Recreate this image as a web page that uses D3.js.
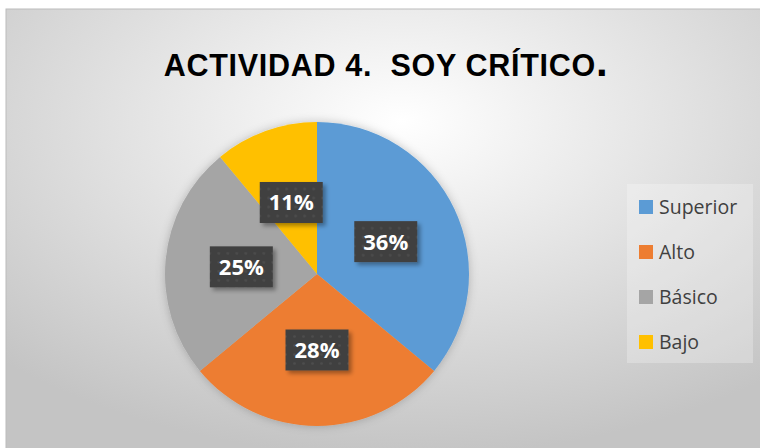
<!DOCTYPE html>
<html>
<head>
<meta charset="utf-8">
<script src="https://d3js.org/d3.v7.min.js"></script>
<title>Actividad 4</title>
<style>
body {margin:0; background:#ffffff;}
</style>
</head>
<body>
<div id="myDiv"></div>
<script>
// data
var categories = ["Superior", "Alto", "Básico", "Bajo"];
var values = [36, 28, 25, 11];
var colors = ["#5b9bd5", "#ed7d31", "#a5a5a5", "#ffc000"];

var width = 760, height = 448;

var svg = d3.select("#myDiv").append("svg")
	.attr("width", width)
	.attr("height", height);

var defs = svg.append("defs");

// background gradient
var grad = defs.append("radialGradient")
	.attr("id", "bg")
	.attr("cx", "52%").attr("cy", "25%").attr("r", "75%");
grad.append("stop").attr("offset", "0%").attr("stop-color", "#ffffff");
grad.append("stop").attr("offset", "100%").attr("stop-color", "#c4c4c4");

// shadow filters
var sh = defs.append("filter").attr("id", "shadow")
	.attr("x", "-20%").attr("y", "-20%").attr("width", "140%").attr("height", "140%");
sh.append("feDropShadow").attr("dx", 0).attr("dy", 0).attr("stdDeviation", 5)
	.attr("flood-color", "#000").attr("flood-opacity", 0.22);

var sh2 = defs.append("filter").attr("id", "boxShadow")
	.attr("x", "-30%").attr("y", "-30%").attr("width", "160%").attr("height", "160%");
sh2.append("feDropShadow").attr("dx", 3).attr("dy", 3).attr("stdDeviation", 2)
	.attr("flood-color", "#000").attr("flood-opacity", 0.35);

// dotted pattern for label boxes
var pat = defs.append("pattern").attr("id", "dots")
	.attr("width", 9).attr("height", 9).attr("patternUnits", "userSpaceOnUse");
pat.append("rect").attr("width", 9).attr("height", 9).attr("fill", "#404040");
pat.append("circle").attr("cx", 4.5).attr("cy", 4.5).attr("r", 1.3).attr("fill", "#4e4e4e");

// chart area
svg.append("rect")
	.attr("x", 6).attr("y", 9)
	.attr("width", width).attr("height", height)
	.attr("fill", "url(#bg)")
	.attr("stroke", "#bcbcbc");

// title
var title = svg.append("text")
	.attr("x", 386).attr("y", 76)
	.attr("text-anchor", "middle")
	.attr("font-family", "Liberation Sans, Arial, sans-serif")
	.attr("font-weight", "bold")
	.attr("font-size", 30.5)
	.attr("letter-spacing", 0.7)
	.attr("fill", "#000")
	.attr("xml:space", "preserve")
	.style("white-space", "pre");
title.append("tspan").text("ACTIVIDAD 4.  SOY CRÍTICO");
title.append("tspan").attr("font-size", 42).text(".");

// pie
var cx = 317, cy = 274, r = 152;

var pie = d3.pie().sort(null).value(function(d) { return d; });
var arc = d3.arc().innerRadius(0).outerRadius(r);
var arcs = pie(values);

var g = svg.append("g").attr("transform", "translate(" + cx + "," + cy + ")");

g.append("g").attr("filter", "url(#shadow)")
	.selectAll("path").data(arcs).enter()
	.append("path")
	.attr("d", arc)
	.attr("fill", function(d, i) { return colors[i]; });

// labels
var boxW = 63, boxH = 41;
var lab = g.selectAll(".lab").data(arcs).enter()
	.append("g").attr("class", "lab")
	.attr("transform", function(d) {
		var c = arc.centroid(d);
		return "translate(" + c[0] + "," + c[1] + ")";
	});
lab.append("rect")
	.attr("x", -boxW / 2).attr("y", -boxH / 2)
	.attr("width", boxW).attr("height", boxH)
	.attr("fill", "url(#dots)")
	.attr("filter", "url(#boxShadow)");
lab.append("text")
	.attr("text-anchor", "middle")
	.attr("dy", "0.36em")
	.attr("font-family", "Open Sans, sans-serif")
	.attr("font-weight", "bold")
	.attr("font-size", 22)
	.attr("fill", "#ffffff")
	.text(function(d) { return d.data + "%"; });

// legend
var legend = svg.append("g");
legend.append("rect")
	.attr("x", 627).attr("y", 184)
	.attr("width", 126).attr("height", 179)
	.attr("fill", "#ffffff").attr("fill-opacity", 0.25);

var ly = d3.scalePoint().domain(categories).range([207, 342]);

var item = legend.selectAll(".item").data(categories).enter()
	.append("g").attr("class", "item")
	.attr("transform", function(d) { return "translate(639," + ly(d) + ")"; });
item.append("rect")
	.attr("x", 0).attr("y", -7)
	.attr("width", 14).attr("height", 14)
	.attr("fill", function(d, i) { return colors[i]; });
item.append("text")
	.attr("x", 20).attr("dy", "0.36em")
	.attr("font-family", "Open Sans, sans-serif")
	.attr("font-size", 19.5)
	.attr("fill", "#404040")
	.text(function(d) { return d; });
</script>
</body>
</html>
